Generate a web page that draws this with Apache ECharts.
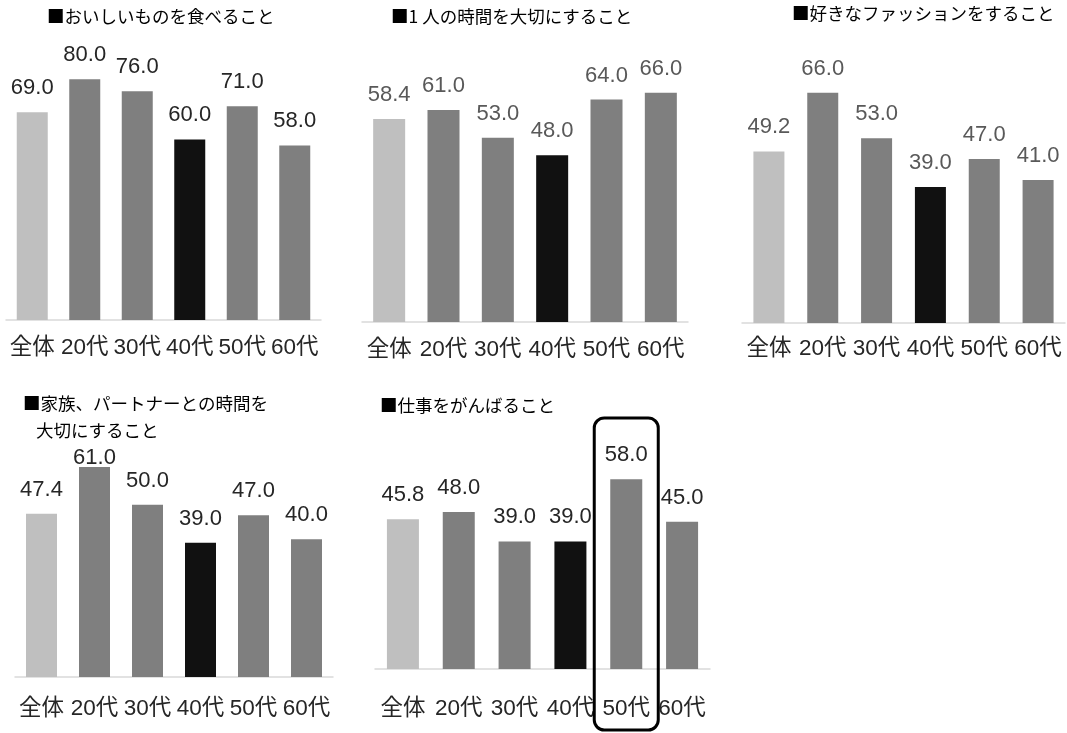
<!DOCTYPE html>
<html>
<head>
<meta charset="utf-8">
<script src="https://cdn.jsdelivr.net/npm/echarts@6/dist/echarts.min.js"></script>
<style>
  html, body { margin: 0; padding: 0; background: #fff; }
  #chart { width: 1067px; height: 733px; }
</style>
</head>
<body>
<div id="chart"></div>
<script>
const CATEGORIES = ['全体', '20代', '30代', '40代', '50代', '60代']

const TITLE_FOOD    = '■おいしいものを食べること'
const TITLE_ALONE   = '■1 人の時間を大切にすること'
const TITLE_FASHION = '■好きなファッションをすること'
const TITLE_FAMILY  = ['■家族、パートナーとの時間を', '大切にすること']
const TITLE_WORK    = '■仕事をがんばること'

const VALUES_FOOD    = [69.0, 80.0, 76.0, 60.0, 71.0, 58.0]
const VALUES_ALONE   = [58.4, 61.0, 53.0, 48.0, 64.0, 66.0]
const VALUES_FASHION = [49.2, 66.0, 53.0, 39.0, 47.0, 41.0]
const VALUES_FAMILY  = [47.4, 61.0, 50.0, 39.0, 47.0, 40.0]
const VALUES_WORK    = [45.8, 48.0, 39.0, 39.0, 58.0, 45.0]

// 全体 light, 40代 near-black, the rest mid gray
const BAR_COLORS = ['#bfbfbf', '#7f7f7f', '#7f7f7f', '#111111', '#7f7f7f', '#7f7f7f']
const HIGHLIGHT = '50代'

const CJK = '"Noto Sans CJK JP", sans-serif'
const NUM = '"Liberation Sans", "Noto Sans CJK JP", sans-serif'

// one entry per small multiple: where its plot sits and how it is scaled.
// labelNudge: per-bar label distance override (the 61.0 in the family panel
// was pushed down onto its bar so it clears the two-line title)
const PANELS = [
  { values: VALUES_FOOD,    grid: { left: 6,   top: 19,  width: 315, height: 301 }, max: 100, barWidth: 31, labelColor: '#262626', margin: 17 },
  { values: VALUES_ALONE,   grid: { left: 362, top: 44,  width: 326, height: 278 }, max: 80,  barWidth: 32, labelColor: '#595959', margin: 17 },
  { values: VALUES_FASHION, grid: { left: 742, top: 44,  width: 323, height: 279 }, max: 80,  barWidth: 31, labelColor: '#595959', margin: 15 },
  { values: VALUES_FAMILY,  grid: { left: 15,  top: 436, width: 318, height: 241 }, max: 70,  barWidth: 31, labelColor: '#262626', margin: 21, labelNudge: { 1: -2 } },
  { values: VALUES_WORK,    grid: { left: 375, top: 440, width: 335, height: 229 }, max: 70,  barWidth: 32, labelColor: '#262626', margin: 29 },
]

const titleStyle = { fontFamily: CJK, fontSize: 17.5, fontWeight: 'normal', color: '#000' }
const titles = [
  { text: TITLE_FOOD,      left: 47,  top: 8 },
  { text: TITLE_ALONE,     left: 391, top: 8 },
  { text: TITLE_FASHION,   left: 792, top: 5 },
  { text: TITLE_FAMILY[0], left: 23,  top: 395 },
  { text: TITLE_FAMILY[1], left: 36,  top: 422 },
  { text: TITLE_WORK,      left: 380, top: 397 },
].map((t) => ({ ...t, padding: 0, textStyle: titleStyle }))

const chart = echarts.init(document.getElementById('chart'), null, { renderer: 'canvas' })

chart.setOption({
  backgroundColor: '#fff',
  animation: false,
  title: titles,
  grid: PANELS.map((p) => ({ ...p.grid, containLabel: false })),
  xAxis: PANELS.map((p, i) => ({
    type: 'category', gridIndex: i, data: CATEGORIES,
    axisLine: { lineStyle: { color: '#d9d9d9', width: 1.5 } },
    axisTick: { show: false },
    axisLabel: { interval: 0, margin: p.margin, color: '#262626', fontSize: 22.5, fontFamily: NUM },
  })),
  yAxis: PANELS.map((p, i) => ({
    type: 'value', gridIndex: i, min: 0, max: p.max, show: false,
  })),
  series: PANELS.map((p, i) => ({
    type: 'bar', xAxisIndex: i, yAxisIndex: i,
    barWidth: p.barWidth,
    data: p.values.map((v, j) =>
      p.labelNudge && p.labelNudge[j] != null
        ? { value: v, label: { distance: p.labelNudge[j] } }
        : v),
    itemStyle: { color: (d) => BAR_COLORS[d.dataIndex] },
    label: {
      show: true, position: 'top', distance: 13,
      color: p.labelColor, fontSize: 22, fontFamily: NUM,
      formatter: (d) => d.value.toFixed(1),
    },
  })),
})

// rounded box around the highlighted age group in the last panel
const last = PANELS.length - 1
const cx = chart.convertToPixel({ xAxisIndex: last }, HIGHLIGHT)
chart.setOption({
  graphic: [{
    type: 'rect', z: 100,
    shape: { x: cx - 32, y: 418, width: 64, height: 312, r: 10 },
    style: { fill: 'none', stroke: '#000', lineWidth: 3 },
  }],
})
</script>
</body>
</html>
